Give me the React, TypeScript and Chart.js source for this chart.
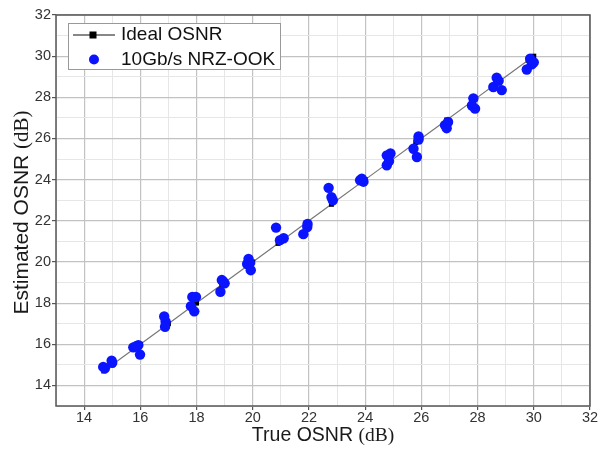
import React, { useEffect, useRef } from "react";
import { Chart, registerables } from "chart.js";
Chart.register(...registerables);

const idealX = [14.7, 15, 16, 17, 18, 18.9, 20, 20.9, 21.9, 22.8, 24, 24.9, 25.8, 26.9, 27.9, 28.8, 29.8, 30];
const idealY = [14.7, 15, 16, 17, 18, 18.9, 20, 20.9, 21.9, 22.8, 24, 24.9, 25.8, 26.9, 27.9, 28.8, 29.8, 30];

const measuredX = [
  14.68, 14.74, 14.98, 15.0,
  15.75, 15.93, 15.99, 15.85,
  16.85, 16.9, 16.88,
  17.85, 17.98, 17.8, 17.92,
  18.9, 19.0, 18.85, 18.95,
  19.85, 19.9, 19.8, 19.93,
  20.83, 20.97, 21.1,
  21.94, 21.8, 21.95,
  22.7, 22.8, 22.85,
  23.82, 23.94, 23.88,
  24.77, 24.9, 24.77, 24.85,
  25.9, 25.72, 25.84, 25.9,
  26.84, 26.9, 26.95,
  27.85, 27.91, 27.8,
  28.68, 28.56, 28.86, 28.75,
  29.87, 29.93, 29.75, 30.0,
];
const measuredY = [
  14.9, 14.83, 15.2, 15.1,
  15.85, 15.96, 15.5, 15.9,
  17.35, 17.1, 16.85,
  18.3, 18.3, 17.85, 17.6,
  19.12, 18.96, 18.55, 19.05,
  20.15, 19.95, 19.9, 19.6,
  21.67, 21.06, 21.15,
  21.7, 21.35, 21.85,
  23.6, 23.15, 23.0,
  23.97, 23.9, 24.05,
  25.18, 25.27, 24.7, 24.9,
  26.1, 25.5, 25.1, 25.95,
  26.65, 26.5, 26.8,
  27.95, 27.45, 27.6,
  28.95, 28.5, 28.35, 28.8,
  29.88, 29.6, 29.35, 29.7,
];

const axisMin = 13;
const axisMax = 32;
const majorStep = 2;
const seriesNames = ["Ideal OSNR", "10Gb/s NRZ-OOK"];
const xTitle = ["True OSNR ", "(dB)"];
const yTitle = ["Estimated OSNR ", "(dB)"];

const SANS = "'Liberation Sans', Arial, sans-serif";
const SERIF = "'Liberation Serif', 'Times New Roman', serif";
const BLUE = "#0a14ff";

function drawMixed(ctx: CanvasRenderingContext2D, parts: string[], cx: number, cy: number, size: number) {
  ctx.font = `${size}px ${SANS}`;
  const w1 = ctx.measureText(parts[0]).width;
  ctx.font = `${size}px ${SERIF}`;
  const w2 = ctx.measureText(parts[1]).width;
  const start = cx - (w1 + w2) / 2;
  ctx.textBaseline = "middle";
  ctx.textAlign = "left";
  ctx.fillStyle = "#1a1a1a";
  ctx.font = `${size}px ${SANS}`;
  ctx.fillText(parts[0], start, cy);
  ctx.font = `${size}px ${SERIF}`;
  ctx.fillText(parts[1], start + w1, cy);
}

const decorPlugin = {
  id: "decor",
  afterDraw(chart: any) {
    const ctx: CanvasRenderingContext2D = chart.ctx;
    const a = chart.chartArea;
    ctx.save();
    // frame
    ctx.strokeStyle = "#555";
    ctx.lineWidth = 1.5;
    ctx.strokeRect(a.left, a.top, a.right - a.left, a.bottom - a.top);

    // axis titles
    drawMixed(ctx, xTitle, (a.left + a.right) / 2, 436, 19.5);
    ctx.save();
    ctx.translate(22, (a.top + a.bottom) / 2 + 2);
    ctx.rotate(-Math.PI / 2);
    drawMixed(ctx, yTitle, 0, 0, 21);
    ctx.restore();

    // legend
    const lx = 68.5, ly = 23.5, lw = 212, lh = 46;
    ctx.fillStyle = "#fff";
    ctx.fillRect(lx, ly, lw, lh);
    ctx.strokeStyle = "#999";
    ctx.lineWidth = 1;
    ctx.strokeRect(lx, ly, lw, lh);
    ctx.strokeStyle = "#111";
    ctx.lineWidth = 1.2;
    ctx.beginPath();
    ctx.moveTo(73, 35);
    ctx.lineTo(115, 35);
    ctx.stroke();
    ctx.fillStyle = "#000";
    ctx.fillRect(89.5, 31.5, 7, 7);
    ctx.fillStyle = BLUE;
    ctx.beginPath();
    ctx.arc(94, 59.5, 5, 0, Math.PI * 2);
    ctx.fill();
    ctx.fillStyle = "#111";
    ctx.font = `19px ${SANS}`;
    ctx.textAlign = "left";
    ctx.textBaseline = "middle";
    ctx.fillText(seriesNames[0], 121, 35);
    ctx.fillText(seriesNames[1], 121, 59.5);
    ctx.restore();
  },
};

function makeScale(fit: (s: any) => void, pad: number) {
  return {
    type: "linear" as const,
    min: axisMin,
    max: axisMax,
    border: { display: false },
    grid: {
      color: (c: any) => (c.tick && c.tick.value % majorStep === 0 ? "#c2c2c2" : "#e6e6e6"),
      lineWidth: (c: any) => (c.tick && c.tick.value % majorStep === 0 ? 1.2 : 1),
      tickLength: 4,
      tickColor: (c: any) =>
        c.tick && c.tick.value % majorStep === 0 && c.tick.value > axisMin ? "#555" : "rgba(0,0,0,0)",
    },
    ticks: {
      stepSize: 1,
      autoSkip: false,
      maxRotation: 0,
      padding: pad,
      color: "#333",
      font: { family: SANS, size: 14.5 },
      callback: (v: any) => (v % majorStep === 0 && v > axisMin ? String(v) : ""),
    },
    afterFit: fit,
  };
}

export default function App() {
  const ref = useRef<HTMLCanvasElement | null>(null);
  useEffect(() => {
    document.body.style.margin = "0";
    if (!ref.current) return;
    const chart = new Chart(ref.current, {
      type: "scatter",
      data: {
        datasets: [
          {
            label: seriesNames[1],
            data: measuredX.map((x, i) => ({ x, y: measuredY[i] })),
            backgroundColor: BLUE,
            borderColor: BLUE,
            pointRadius: 5.2,
            pointBorderWidth: 0,
            showLine: false,
            order: 0,
          },
          {
            label: seriesNames[0],
            data: idealX.map((x, i) => ({ x, y: idealY[i] })),
            showLine: true,
            borderColor: "#777",
            borderWidth: 1.2,
            backgroundColor: "#000",
            pointStyle: "rect",
            pointRadius: 3.5,
            pointBorderWidth: 0,
            order: 1,
          },
        ],
      },
      options: {
        animation: false,
        responsive: false,
        maintainAspectRatio: false,
        layout: { padding: { top: 15, right: 14, left: 0, bottom: 0 } },
        plugins: { legend: { display: false }, tooltip: { enabled: false } },
        scales: {
          x: makeScale((s: any) => { s.height = 46; }, -1),
          y: makeScale((s: any) => { s.width = 56; }, 1),
        },
      },
      plugins: [decorPlugin],
    });
    return () => chart.destroy();
  }, []);
  return (
    <div style={{ width: 604, height: 452 }}>
      <canvas ref={ref} width={604} height={452} style={{ display: "block" }} />
    </div>
  );
}
